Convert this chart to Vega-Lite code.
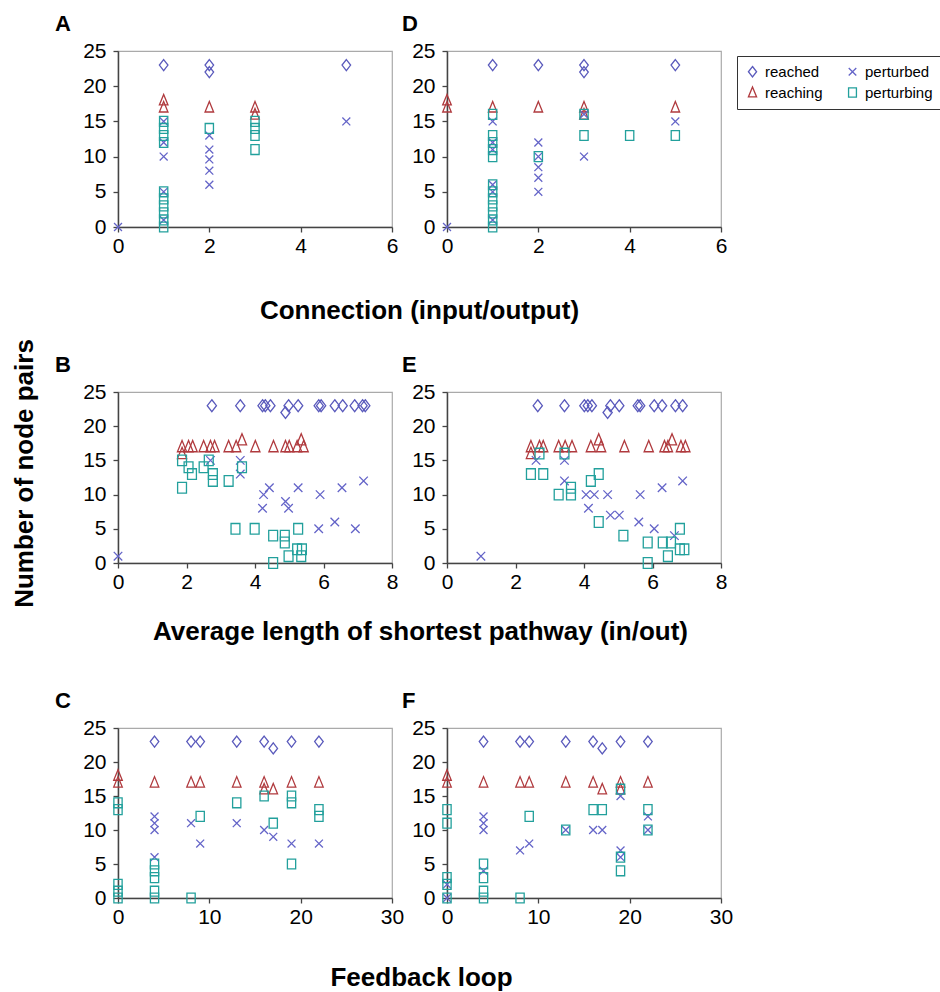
{
  "$schema": "https://vega.github.io/schema/vega-lite/v6.json",
  "padding": {"left": 10, "top": 12, "right": 0, "bottom": 0},
  "background": "white",
  "datasets": {
    "pts": [
      {"panel":"A","series":"reached","x":1,"y":23},{"panel":"A","series":"reached","x":2,"y":23},{"panel":"A","series":"reached","x":2,"y":22},{"panel":"A","series":"reached","x":5,"y":23},
      {"panel":"A","series":"reaching","x":1,"y":18},{"panel":"A","series":"reaching","x":1,"y":17},{"panel":"A","series":"reaching","x":2,"y":17},{"panel":"A","series":"reaching","x":3,"y":17},{"panel":"A","series":"reaching","x":3,"y":16},
      {"panel":"A","series":"perturbed","x":0,"y":0},{"panel":"A","series":"perturbed","x":1,"y":15},{"panel":"A","series":"perturbed","x":1,"y":12},{"panel":"A","series":"perturbed","x":1,"y":10},{"panel":"A","series":"perturbed","x":1,"y":5},{"panel":"A","series":"perturbed","x":1,"y":1},{"panel":"A","series":"perturbed","x":2,"y":13},{"panel":"A","series":"perturbed","x":2,"y":11},{"panel":"A","series":"perturbed","x":2,"y":9.6},{"panel":"A","series":"perturbed","x":2,"y":8},{"panel":"A","series":"perturbed","x":2,"y":6},{"panel":"A","series":"perturbed","x":5,"y":15},
      {"panel":"A","series":"perturbing","x":1,"y":15},{"panel":"A","series":"perturbing","x":1,"y":14},{"panel":"A","series":"perturbing","x":1,"y":13},{"panel":"A","series":"perturbing","x":1,"y":12},{"panel":"A","series":"perturbing","x":1,"y":5},{"panel":"A","series":"perturbing","x":1,"y":4},{"panel":"A","series":"perturbing","x":1,"y":3},{"panel":"A","series":"perturbing","x":1,"y":2},{"panel":"A","series":"perturbing","x":1,"y":1},{"panel":"A","series":"perturbing","x":1,"y":0},{"panel":"A","series":"perturbing","x":2,"y":14},{"panel":"A","series":"perturbing","x":3,"y":15},{"panel":"A","series":"perturbing","x":3,"y":14},{"panel":"A","series":"perturbing","x":3,"y":13},{"panel":"A","series":"perturbing","x":3,"y":11},

      {"panel":"D","series":"reached","x":1,"y":23},{"panel":"D","series":"reached","x":2,"y":23},{"panel":"D","series":"reached","x":3,"y":23},{"panel":"D","series":"reached","x":3,"y":22},{"panel":"D","series":"reached","x":5,"y":23},
      {"panel":"D","series":"reaching","x":0,"y":18},{"panel":"D","series":"reaching","x":0,"y":17},{"panel":"D","series":"reaching","x":1,"y":17},{"panel":"D","series":"reaching","x":2,"y":17},{"panel":"D","series":"reaching","x":3,"y":17},{"panel":"D","series":"reaching","x":3,"y":16},{"panel":"D","series":"reaching","x":5,"y":17},
      {"panel":"D","series":"perturbed","x":0,"y":0},{"panel":"D","series":"perturbed","x":1,"y":15},{"panel":"D","series":"perturbed","x":1,"y":12},{"panel":"D","series":"perturbed","x":1,"y":11},{"panel":"D","series":"perturbed","x":1,"y":6},{"panel":"D","series":"perturbed","x":1,"y":5},{"panel":"D","series":"perturbed","x":1,"y":1},{"panel":"D","series":"perturbed","x":2,"y":12},{"panel":"D","series":"perturbed","x":2,"y":10},{"panel":"D","series":"perturbed","x":2,"y":8.5},{"panel":"D","series":"perturbed","x":2,"y":7},{"panel":"D","series":"perturbed","x":2,"y":5},{"panel":"D","series":"perturbed","x":3,"y":16},{"panel":"D","series":"perturbed","x":3,"y":10},{"panel":"D","series":"perturbed","x":5,"y":15},
      {"panel":"D","series":"perturbing","x":1,"y":16},{"panel":"D","series":"perturbing","x":1,"y":13},{"panel":"D","series":"perturbing","x":1,"y":12},{"panel":"D","series":"perturbing","x":1,"y":11},{"panel":"D","series":"perturbing","x":1,"y":10},{"panel":"D","series":"perturbing","x":1,"y":6},{"panel":"D","series":"perturbing","x":1,"y":5},{"panel":"D","series":"perturbing","x":1,"y":4},{"panel":"D","series":"perturbing","x":1,"y":3},{"panel":"D","series":"perturbing","x":1,"y":2},{"panel":"D","series":"perturbing","x":1,"y":1},{"panel":"D","series":"perturbing","x":1,"y":0},{"panel":"D","series":"perturbing","x":2,"y":10},{"panel":"D","series":"perturbing","x":3,"y":16},{"panel":"D","series":"perturbing","x":3,"y":13},{"panel":"D","series":"perturbing","x":4,"y":13},{"panel":"D","series":"perturbing","x":5,"y":13},

      {"panel":"B","series":"reached","x":2.74,"y":23},{"panel":"B","series":"reached","x":3.57,"y":23},{"panel":"B","series":"reached","x":4.22,"y":23},{"panel":"B","series":"reached","x":4.3,"y":23},{"panel":"B","series":"reached","x":4.45,"y":23},{"panel":"B","series":"reached","x":4.89,"y":22},{"panel":"B","series":"reached","x":4.98,"y":23},{"panel":"B","series":"reached","x":5.26,"y":23},{"panel":"B","series":"reached","x":5.86,"y":23},{"panel":"B","series":"reached","x":5.93,"y":23},{"panel":"B","series":"reached","x":6.33,"y":23},{"panel":"B","series":"reached","x":6.56,"y":23},{"panel":"B","series":"reached","x":6.91,"y":23},{"panel":"B","series":"reached","x":7.14,"y":23},{"panel":"B","series":"reached","x":7.22,"y":23},
      {"panel":"B","series":"reaching","x":1.87,"y":17},{"panel":"B","series":"reaching","x":1.87,"y":16},{"panel":"B","series":"reaching","x":2.06,"y":17},{"panel":"B","series":"reaching","x":2.18,"y":17},{"panel":"B","series":"reaching","x":2.5,"y":17},{"panel":"B","series":"reaching","x":2.7,"y":17},{"panel":"B","series":"reaching","x":2.82,"y":17},{"panel":"B","series":"reaching","x":3.23,"y":17},{"panel":"B","series":"reaching","x":3.45,"y":17},{"panel":"B","series":"reaching","x":3.62,"y":18},{"panel":"B","series":"reaching","x":4.01,"y":17},{"panel":"B","series":"reaching","x":4.54,"y":17},{"panel":"B","series":"reaching","x":4.89,"y":17},{"panel":"B","series":"reaching","x":5.0,"y":17},{"panel":"B","series":"reaching","x":5.23,"y":17},{"panel":"B","series":"reaching","x":5.35,"y":18},{"panel":"B","series":"reaching","x":5.42,"y":17},
      {"panel":"B","series":"perturbed","x":0,"y":1},{"panel":"B","series":"perturbed","x":2.7,"y":15},{"panel":"B","series":"perturbed","x":3.57,"y":15},{"panel":"B","series":"perturbed","x":3.57,"y":13},{"panel":"B","series":"perturbed","x":4.25,"y":10},{"panel":"B","series":"perturbed","x":4.42,"y":11},{"panel":"B","series":"perturbed","x":4.22,"y":8},{"panel":"B","series":"perturbed","x":4.89,"y":9},{"panel":"B","series":"perturbed","x":4.98,"y":8},{"panel":"B","series":"perturbed","x":5.26,"y":11},{"panel":"B","series":"perturbed","x":5.9,"y":10},{"panel":"B","series":"perturbed","x":5.86,"y":5},{"panel":"B","series":"perturbed","x":6.33,"y":6},{"panel":"B","series":"perturbed","x":6.54,"y":11},{"panel":"B","series":"perturbed","x":6.93,"y":5},{"panel":"B","series":"perturbed","x":7.17,"y":12},
      {"panel":"B","series":"perturbing","x":1.87,"y":15},{"panel":"B","series":"perturbing","x":1.87,"y":11},{"panel":"B","series":"perturbing","x":2.06,"y":14},{"panel":"B","series":"perturbing","x":2.16,"y":13},{"panel":"B","series":"perturbing","x":2.5,"y":14},{"panel":"B","series":"perturbing","x":2.65,"y":15},{"panel":"B","series":"perturbing","x":2.77,"y":13},{"panel":"B","series":"perturbing","x":2.77,"y":12},{"panel":"B","series":"perturbing","x":3.23,"y":12},{"panel":"B","series":"perturbing","x":3.43,"y":5},{"panel":"B","series":"perturbing","x":3.99,"y":5},{"panel":"B","series":"perturbing","x":3.62,"y":14},{"panel":"B","series":"perturbing","x":4.53,"y":4},{"panel":"B","series":"perturbing","x":4.53,"y":0},{"panel":"B","series":"perturbing","x":4.87,"y":4},{"panel":"B","series":"perturbing","x":4.87,"y":3},{"panel":"B","series":"perturbing","x":4.98,"y":1},{"panel":"B","series":"perturbing","x":5.26,"y":5},{"panel":"B","series":"perturbing","x":5.23,"y":2},{"panel":"B","series":"perturbing","x":5.37,"y":2},{"panel":"B","series":"perturbing","x":5.35,"y":1},

      {"panel":"E","series":"reached","x":2.65,"y":23},{"panel":"E","series":"reached","x":3.43,"y":23},{"panel":"E","series":"reached","x":4.01,"y":23},{"panel":"E","series":"reached","x":4.11,"y":23},{"panel":"E","series":"reached","x":4.23,"y":23},{"panel":"E","series":"reached","x":4.69,"y":22},{"panel":"E","series":"reached","x":4.77,"y":23},{"panel":"E","series":"reached","x":5.03,"y":23},{"panel":"E","series":"reached","x":5.57,"y":23},{"panel":"E","series":"reached","x":5.64,"y":23},{"panel":"E","series":"reached","x":6.05,"y":23},{"panel":"E","series":"reached","x":6.28,"y":23},{"panel":"E","series":"reached","x":6.67,"y":23},{"panel":"E","series":"reached","x":6.88,"y":23},
      {"panel":"E","series":"reaching","x":2.45,"y":17},{"panel":"E","series":"reaching","x":2.45,"y":16},{"panel":"E","series":"reaching","x":2.7,"y":17},{"panel":"E","series":"reaching","x":2.81,"y":17},{"panel":"E","series":"reaching","x":3.26,"y":17},{"panel":"E","series":"reaching","x":3.45,"y":17},{"panel":"E","series":"reaching","x":3.65,"y":17},{"panel":"E","series":"reaching","x":4.2,"y":17},{"panel":"E","series":"reaching","x":4.43,"y":18},{"panel":"E","series":"reaching","x":4.5,"y":17},{"panel":"E","series":"reaching","x":5.18,"y":17},{"panel":"E","series":"reaching","x":5.89,"y":17},{"panel":"E","series":"reaching","x":6.35,"y":17},{"panel":"E","series":"reaching","x":6.45,"y":17},{"panel":"E","series":"reaching","x":6.57,"y":18},{"panel":"E","series":"reaching","x":6.83,"y":17},{"panel":"E","series":"reaching","x":6.96,"y":17},
      {"panel":"E","series":"perturbed","x":0.99,"y":1},{"panel":"E","series":"perturbed","x":2.6,"y":15},{"panel":"E","series":"perturbed","x":3.43,"y":15},{"panel":"E","series":"perturbed","x":3.43,"y":12},{"panel":"E","series":"perturbed","x":4.06,"y":10},{"panel":"E","series":"perturbed","x":4.3,"y":10},{"panel":"E","series":"perturbed","x":4.69,"y":10},{"panel":"E","series":"perturbed","x":4.13,"y":8},{"panel":"E","series":"perturbed","x":4.77,"y":7},{"panel":"E","series":"perturbed","x":5.03,"y":7},{"panel":"E","series":"perturbed","x":5.64,"y":10},{"panel":"E","series":"perturbed","x":5.6,"y":6},{"panel":"E","series":"perturbed","x":6.05,"y":5},{"panel":"E","series":"perturbed","x":6.28,"y":11},{"panel":"E","series":"perturbed","x":6.64,"y":4},{"panel":"E","series":"perturbed","x":6.88,"y":12},
      {"panel":"E","series":"perturbing","x":2.45,"y":13},{"panel":"E","series":"perturbing","x":2.7,"y":16},{"panel":"E","series":"perturbing","x":2.81,"y":13},{"panel":"E","series":"perturbing","x":3.26,"y":10},{"panel":"E","series":"perturbing","x":3.43,"y":16},{"panel":"E","series":"perturbing","x":3.62,"y":11},{"panel":"E","series":"perturbing","x":3.62,"y":10},{"panel":"E","series":"perturbing","x":4.2,"y":12},{"panel":"E","series":"perturbing","x":4.43,"y":13},{"panel":"E","series":"perturbing","x":4.43,"y":6},{"panel":"E","series":"perturbing","x":5.15,"y":4},{"panel":"E","series":"perturbing","x":5.86,"y":3},{"panel":"E","series":"perturbing","x":5.86,"y":0},{"panel":"E","series":"perturbing","x":6.3,"y":3},{"panel":"E","series":"perturbing","x":6.54,"y":3},{"panel":"E","series":"perturbing","x":6.45,"y":1},{"panel":"E","series":"perturbing","x":6.8,"y":5},{"panel":"E","series":"perturbing","x":6.8,"y":2},{"panel":"E","series":"perturbing","x":6.93,"y":2},

      {"panel":"C","series":"reached","x":4,"y":23},{"panel":"C","series":"reached","x":8,"y":23},{"panel":"C","series":"reached","x":9,"y":23},{"panel":"C","series":"reached","x":13,"y":23},{"panel":"C","series":"reached","x":16,"y":23},{"panel":"C","series":"reached","x":17,"y":22},{"panel":"C","series":"reached","x":19,"y":23},{"panel":"C","series":"reached","x":22,"y":23},
      {"panel":"C","series":"reaching","x":0,"y":18},{"panel":"C","series":"reaching","x":0,"y":17},{"panel":"C","series":"reaching","x":4,"y":17},{"panel":"C","series":"reaching","x":8,"y":17},{"panel":"C","series":"reaching","x":9,"y":17},{"panel":"C","series":"reaching","x":13,"y":17},{"panel":"C","series":"reaching","x":16,"y":17},{"panel":"C","series":"reaching","x":16,"y":16},{"panel":"C","series":"reaching","x":17,"y":16},{"panel":"C","series":"reaching","x":19,"y":17},{"panel":"C","series":"reaching","x":22,"y":17},
      {"panel":"C","series":"perturbed","x":4,"y":12},{"panel":"C","series":"perturbed","x":4,"y":11},{"panel":"C","series":"perturbed","x":4,"y":10},{"panel":"C","series":"perturbed","x":4,"y":6},{"panel":"C","series":"perturbed","x":8,"y":11},{"panel":"C","series":"perturbed","x":9,"y":8},{"panel":"C","series":"perturbed","x":13,"y":11},{"panel":"C","series":"perturbed","x":16,"y":10},{"panel":"C","series":"perturbed","x":17,"y":9},{"panel":"C","series":"perturbed","x":19,"y":8},{"panel":"C","series":"perturbed","x":22,"y":8},
      {"panel":"C","series":"perturbing","x":0,"y":14},{"panel":"C","series":"perturbing","x":0,"y":13},{"panel":"C","series":"perturbing","x":0,"y":2},{"panel":"C","series":"perturbing","x":0,"y":1},{"panel":"C","series":"perturbing","x":0,"y":0},{"panel":"C","series":"perturbing","x":4,"y":5},{"panel":"C","series":"perturbing","x":4,"y":4},{"panel":"C","series":"perturbing","x":4,"y":3},{"panel":"C","series":"perturbing","x":4,"y":1},{"panel":"C","series":"perturbing","x":4,"y":0},{"panel":"C","series":"perturbing","x":8,"y":0},{"panel":"C","series":"perturbing","x":9,"y":12},{"panel":"C","series":"perturbing","x":13,"y":14},{"panel":"C","series":"perturbing","x":16,"y":15},{"panel":"C","series":"perturbing","x":17,"y":11},{"panel":"C","series":"perturbing","x":19,"y":15},{"panel":"C","series":"perturbing","x":19,"y":14},{"panel":"C","series":"perturbing","x":19,"y":5},{"panel":"C","series":"perturbing","x":22,"y":13},{"panel":"C","series":"perturbing","x":22,"y":12},

      {"panel":"F","series":"reached","x":4,"y":23},{"panel":"F","series":"reached","x":8,"y":23},{"panel":"F","series":"reached","x":9,"y":23},{"panel":"F","series":"reached","x":13,"y":23},{"panel":"F","series":"reached","x":16,"y":23},{"panel":"F","series":"reached","x":17,"y":22},{"panel":"F","series":"reached","x":19,"y":23},{"panel":"F","series":"reached","x":22,"y":23},
      {"panel":"F","series":"reaching","x":0,"y":18},{"panel":"F","series":"reaching","x":0,"y":17},{"panel":"F","series":"reaching","x":4,"y":17},{"panel":"F","series":"reaching","x":8,"y":17},{"panel":"F","series":"reaching","x":9,"y":17},{"panel":"F","series":"reaching","x":13,"y":17},{"panel":"F","series":"reaching","x":16,"y":17},{"panel":"F","series":"reaching","x":17,"y":16},{"panel":"F","series":"reaching","x":19,"y":17},{"panel":"F","series":"reaching","x":19,"y":16},{"panel":"F","series":"reaching","x":22,"y":17},
      {"panel":"F","series":"perturbed","x":0,"y":0},{"panel":"F","series":"perturbed","x":0,"y":2},{"panel":"F","series":"perturbed","x":4,"y":12},{"panel":"F","series":"perturbed","x":4,"y":11},{"panel":"F","series":"perturbed","x":4,"y":10},{"panel":"F","series":"perturbed","x":4,"y":4},{"panel":"F","series":"perturbed","x":8,"y":7},{"panel":"F","series":"perturbed","x":9,"y":8},{"panel":"F","series":"perturbed","x":13,"y":10},{"panel":"F","series":"perturbed","x":16,"y":10},{"panel":"F","series":"perturbed","x":17,"y":10},{"panel":"F","series":"perturbed","x":19,"y":15},{"panel":"F","series":"perturbed","x":19,"y":7},{"panel":"F","series":"perturbed","x":19,"y":6},{"panel":"F","series":"perturbed","x":22,"y":12},{"panel":"F","series":"perturbed","x":22,"y":10},
      {"panel":"F","series":"perturbing","x":0,"y":13},{"panel":"F","series":"perturbing","x":0,"y":11},{"panel":"F","series":"perturbing","x":0,"y":3},{"panel":"F","series":"perturbing","x":0,"y":2},{"panel":"F","series":"perturbing","x":0,"y":0},{"panel":"F","series":"perturbing","x":4,"y":5},{"panel":"F","series":"perturbing","x":4,"y":3},{"panel":"F","series":"perturbing","x":4,"y":1},{"panel":"F","series":"perturbing","x":4,"y":0},{"panel":"F","series":"perturbing","x":8,"y":0},{"panel":"F","series":"perturbing","x":9,"y":12},{"panel":"F","series":"perturbing","x":13,"y":10},{"panel":"F","series":"perturbing","x":16,"y":13},{"panel":"F","series":"perturbing","x":17,"y":13},{"panel":"F","series":"perturbing","x":19,"y":16},{"panel":"F","series":"perturbing","x":19,"y":6},{"panel":"F","series":"perturbing","x":19,"y":4},{"panel":"F","series":"perturbing","x":22,"y":13},{"panel":"F","series":"perturbing","x":22,"y":10}
    ]
  },
  "data": {"name": "pts"},
  "columns": 2,
  "bounds": "flush",
  "spacing": {"row": 165, "column": 55},
  "concat": [
    {
      "width": 274, "height": 176,
      "title": {"text": "A", "dx": -63},
      "transform": [{"filter": "datum.panel === 'A'"}],
      "mark": {"type": "point", "filled": false, "strokeWidth": 1.3, "size": 121, "opacity": 1},
      "encoding": {
        "x": {"field": "x", "type": "quantitative", "scale": {"domain": [0, 6], "nice": false}, "axis": {"values": [0, 2, 4, 6], "title": "Connection (input/output)", "titleX": 301, "titleY": 91, "titleBaseline": "alphabetic", "titleAlign": "center"}},
        "y": {"field": "y", "type": "quantitative", "scale": {"domain": [0, 25], "nice": false}, "axis": {"values": [0, 5, 10, 15, 20, 25], "title": "Number of node pairs", "titleX": -86, "titleY": 422, "titleBaseline": "alphabetic", "titleAlign": "center", "titleAngle": -90}},
        "color": {"field": "series", "type": "nominal", "scale": {"domain": ["reached", "reaching", "perturbed", "perturbing"], "range": ["#5a5abc", "#b03a3e", "#6464c8", "#22a09c"]}, "legend": {"title": null, "orient": "none", "legendX": 619, "legendY": 5}},
        "shape": {"field": "series", "type": "nominal", "scale": {"domain": ["reached", "reaching", "perturbed", "perturbing"], "range": ["M0,-1L0.78,0L0,1L-0.78,0Z", "M0,-1.05L0.78,0.85L-0.78,0.85Z", "M-0.72,-0.72L0.72,0.72M-0.72,0.72L0.72,-0.72", "M-0.75,-0.9L0.75,-0.9L0.75,0.9L-0.75,0.9Z"]}, "legend": {"title": null, "orient": "none", "legendX": 619, "legendY": 5}}
      }
    },
    {
      "width": 274, "height": 176,
      "title": {"text": "D", "dx": -45},
      "transform": [{"filter": "datum.panel === 'D'"}],
      "mark": {"type": "point", "filled": false, "strokeWidth": 1.3, "size": 121, "opacity": 1},
      "encoding": {
        "x": {"field": "x", "type": "quantitative", "scale": {"domain": [0, 6], "nice": false}, "axis": {"values": [0, 2, 4, 6], "title": null}},
        "y": {"field": "y", "type": "quantitative", "scale": {"domain": [0, 25], "nice": false}, "axis": {"values": [0, 5, 10, 15, 20, 25], "title": null}},
        "color": {"field": "series", "type": "nominal", "scale": {"domain": ["reached", "reaching", "perturbed", "perturbing"], "range": ["#5a5abc", "#b03a3e", "#6464c8", "#22a09c"]}, "legend": {"title": null, "orient": "none", "legendX": 619, "legendY": 5}},
        "shape": {"field": "series", "type": "nominal", "scale": {"domain": ["reached", "reaching", "perturbed", "perturbing"], "range": ["M0,-1L0.78,0L0,1L-0.78,0Z", "M0,-1.05L0.78,0.85L-0.78,0.85Z", "M-0.72,-0.72L0.72,0.72M-0.72,0.72L0.72,-0.72", "M-0.75,-0.9L0.75,-0.9L0.75,0.9L-0.75,0.9Z"]}, "legend": {"title": null, "orient": "none", "legendX": 619, "legendY": 5}}
      }
    },
    {
      "width": 274, "height": 171,
      "title": {"text": "B", "dx": -63},
      "transform": [{"filter": "datum.panel === 'B'"}],
      "mark": {"type": "point", "filled": false, "strokeWidth": 1.3, "size": 140, "opacity": 1},
      "encoding": {
        "x": {"field": "x", "type": "quantitative", "scale": {"domain": [0, 8], "nice": false}, "axis": {"values": [0, 2, 4, 6, 8], "title": "Average length of shortest pathway (in/out)", "titleX": 302, "titleY": 76, "titleBaseline": "alphabetic", "titleAlign": "center"}},
        "y": {"field": "y", "type": "quantitative", "scale": {"domain": [0, 25], "nice": false}, "axis": {"values": [0, 5, 10, 15, 20, 25], "title": null}},
        "color": {"field": "series", "type": "nominal", "scale": {"domain": ["reached", "reaching", "perturbed", "perturbing"], "range": ["#5a5abc", "#b03a3e", "#6464c8", "#22a09c"]}, "legend": {"title": null, "orient": "none", "legendX": 619, "legendY": 5}},
        "shape": {"field": "series", "type": "nominal", "scale": {"domain": ["reached", "reaching", "perturbed", "perturbing"], "range": ["M0,-1L0.78,0L0,1L-0.78,0Z", "M0,-1.05L0.78,0.85L-0.78,0.85Z", "M-0.72,-0.72L0.72,0.72M-0.72,0.72L0.72,-0.72", "M-0.75,-0.9L0.75,-0.9L0.75,0.9L-0.75,0.9Z"]}, "legend": {"title": null, "orient": "none", "legendX": 619, "legendY": 5}}
      }
    },
    {
      "width": 274, "height": 171,
      "title": {"text": "E", "dx": -45},
      "transform": [{"filter": "datum.panel === 'E'"}],
      "mark": {"type": "point", "filled": false, "strokeWidth": 1.3, "size": 140, "opacity": 1},
      "encoding": {
        "x": {"field": "x", "type": "quantitative", "scale": {"domain": [0, 8], "nice": false}, "axis": {"values": [0, 2, 4, 6, 8], "title": null}},
        "y": {"field": "y", "type": "quantitative", "scale": {"domain": [0, 25], "nice": false}, "axis": {"values": [0, 5, 10, 15, 20, 25], "title": null}},
        "color": {"field": "series", "type": "nominal", "scale": {"domain": ["reached", "reaching", "perturbed", "perturbing"], "range": ["#5a5abc", "#b03a3e", "#6464c8", "#22a09c"]}, "legend": {"title": null, "orient": "none", "legendX": 619, "legendY": 5}},
        "shape": {"field": "series", "type": "nominal", "scale": {"domain": ["reached", "reaching", "perturbed", "perturbing"], "range": ["M0,-1L0.78,0L0,1L-0.78,0Z", "M0,-1.05L0.78,0.85L-0.78,0.85Z", "M-0.72,-0.72L0.72,0.72M-0.72,0.72L0.72,-0.72", "M-0.75,-0.9L0.75,-0.9L0.75,0.9L-0.75,0.9Z"]}, "legend": {"title": null, "orient": "none", "legendX": 619, "legendY": 5}}
      }
    },
    {
      "width": 274, "height": 170,
      "title": {"text": "C", "dx": -63},
      "transform": [{"filter": "datum.panel === 'C'"}],
      "mark": {"type": "point", "filled": false, "strokeWidth": 1.3, "size": 121, "opacity": 1},
      "encoding": {
        "x": {"field": "x", "type": "quantitative", "scale": {"domain": [0, 30], "nice": false}, "axis": {"values": [0, 10, 20, 30], "title": "Feedback loop", "titleX": 303, "titleY": 87, "titleBaseline": "alphabetic", "titleAlign": "center"}},
        "y": {"field": "y", "type": "quantitative", "scale": {"domain": [0, 25], "nice": false}, "axis": {"values": [0, 5, 10, 15, 20, 25], "title": null}},
        "color": {"field": "series", "type": "nominal", "scale": {"domain": ["reached", "reaching", "perturbed", "perturbing"], "range": ["#5a5abc", "#b03a3e", "#6464c8", "#22a09c"]}, "legend": {"title": null, "orient": "none", "legendX": 619, "legendY": 5}},
        "shape": {"field": "series", "type": "nominal", "scale": {"domain": ["reached", "reaching", "perturbed", "perturbing"], "range": ["M0,-1L0.78,0L0,1L-0.78,0Z", "M0,-1.05L0.78,0.85L-0.78,0.85Z", "M-0.72,-0.72L0.72,0.72M-0.72,0.72L0.72,-0.72", "M-0.75,-0.9L0.75,-0.9L0.75,0.9L-0.75,0.9Z"]}, "legend": {"title": null, "orient": "none", "legendX": 619, "legendY": 5}}
      }
    },
    {
      "width": 274, "height": 170,
      "title": {"text": "F", "dx": -45},
      "transform": [{"filter": "datum.panel === 'F'"}],
      "mark": {"type": "point", "filled": false, "strokeWidth": 1.3, "size": 121, "opacity": 1},
      "encoding": {
        "x": {"field": "x", "type": "quantitative", "scale": {"domain": [0, 30], "nice": false}, "axis": {"values": [0, 10, 20, 30], "title": null}},
        "y": {"field": "y", "type": "quantitative", "scale": {"domain": [0, 25], "nice": false}, "axis": {"values": [0, 5, 10, 15, 20, 25], "title": null}},
        "color": {"field": "series", "type": "nominal", "scale": {"domain": ["reached", "reaching", "perturbed", "perturbing"], "range": ["#5a5abc", "#b03a3e", "#6464c8", "#22a09c"]}, "legend": {"title": null, "orient": "none", "legendX": 619, "legendY": 5}},
        "shape": {"field": "series", "type": "nominal", "scale": {"domain": ["reached", "reaching", "perturbed", "perturbing"], "range": ["M0,-1L0.78,0L0,1L-0.78,0Z", "M0,-1.05L0.78,0.85L-0.78,0.85Z", "M-0.72,-0.72L0.72,0.72M-0.72,0.72L0.72,-0.72", "M-0.75,-0.9L0.75,-0.9L0.75,0.9L-0.75,0.9Z"]}, "legend": {"title": null, "orient": "none", "legendX": 619, "legendY": 5}}
      }
    }
  ],
  "config": {
    "font": "Liberation Sans",
    "view": {"stroke": "#aaaaaa", "strokeWidth": 1.2},
    "axis": {"grid": false, "domainColor": "#444444", "domainWidth": 1.5, "tickColor": "#444444", "tickWidth": 1.3, "tickSize": 5, "labelFont": "Liberation Sans", "labelFontSize": 21, "labelColor": "#000000", "labelPadding": 3, "titleFont": "Liberation Sans", "titleFontSize": 26, "titleFontWeight": "bold", "titleColor": "#000000"},
    "axisX": {"labelFlush": false},
    "axisY": {"labelPadding": 7},
    "title": {"font": "Liberation Sans", "fontSize": 22, "fontWeight": "bold", "color": "#000000", "anchor": "start", "frame": "group", "offset": 4},
    "legend": {"columns": 2, "labelFont": "Liberation Sans", "labelFontSize": 15, "labelColor": "#000000", "symbolSize": 110, "symbolStrokeWidth": 1.3, "symbolFillColor": "transparent", "strokeColor": "#333333", "fillColor": "#ffffff", "padding": 8, "rowPadding": 4, "columnPadding": 22, "labelOffset": 5}
  }
}
